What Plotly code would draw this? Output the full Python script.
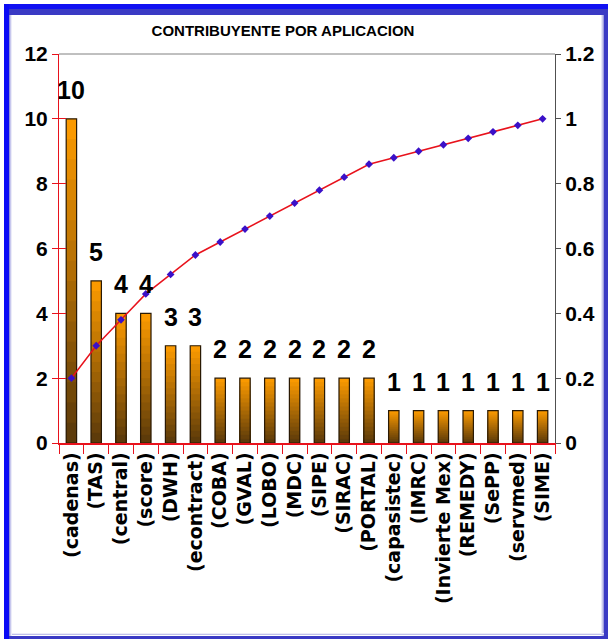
import plotly.graph_objects as go

categories = ["(cadenas)", "(TAS)", "(central)", "(score)", "(DWH)", "(econtract)",
              "(COBA)", "(GVAL)", "(LOBO)", "(MDC)", "(SIPE)", "(SIRAC)", "(PORTAL)",
              "(capasistec)", "(IMRC)", "(Invierte Mex)", "(REMEDY)", "(SePP)",
              "(servmed)", "(SIME)"]
counts = [10, 5, 4, 4, 3, 3, 2, 2, 2, 2, 2, 2, 2, 1, 1, 1, 1, 1, 1, 1]
cumulative = [0.20, 0.30, 0.38, 0.46, 0.52, 0.58, 0.62, 0.66, 0.70, 0.74, 0.78,
              0.82, 0.86, 0.88, 0.90, 0.92, 0.94, 0.96, 0.98, 1.00]
left_ticks = [0, 2, 4, 6, 8, 10, 12]
right_ticks = [0, 0.2, 0.4, 0.6, 0.8, 1.0, 1.2]
right_tick_text = ["0", "0.2", "0.4", "0.6", "0.8", "1", "1.2"]
title_text = "CONTRIBUYENTE POR APLICACION"

W, H = 609, 640
ML, MR, MT, MB = 59, 54, 54, 197
PW, PH = W - ML - MR, H - MT - MB

NARROW = "Liberation Sans Narrow, Arial Narrow, Liberation Sans, Arial, sans-serif"

fig = go.Figure()

# gradient bars: overlaid layers, top orange -> bottom dark brown
top_rgb = (255, 156, 0)
bot_rgb = (88, 56, 10)
N = 16
for k in range(N, 0, -1):
    f = (k - 0.5) / N
    c = tuple(int(round(bot_rgb[i] + (top_rgb[i] - bot_rgb[i]) * f)) for i in range(3))
    fig.add_trace(go.Bar(
        x=categories, y=[v * k / N for v in counts],
        marker=dict(color="rgb(%d,%d,%d)" % c, line=dict(width=0)),
        showlegend=False, hoverinfo="skip", yaxis="y"))
# outline
fig.add_trace(go.Bar(
    x=categories, y=counts,
    marker=dict(color="rgba(0,0,0,0)", line=dict(color="#2a1a05", width=1.2)),
    showlegend=False, yaxis="y"))

# cumulative line
fig.add_trace(go.Scatter(
    x=categories, y=cumulative, yaxis="y2", mode="lines+markers",
    line=dict(color="#e8121c", width=1.5),
    marker=dict(symbol="diamond", size=6, color="#3a10c8"),
    showlegend=False))

# value labels
for cat, v in zip(categories, counts):
    fig.add_annotation(x=cat, y=v, xref="x", yref="y", text=str(v),
                       showarrow=False, yanchor="bottom", yshift=13,
                       font=dict(family=NARROW, size=25, color="black", weight="bold"))


def px_rect(x0, y0, x1, y1, color):
    return dict(type="rect", xref="paper", yref="paper", layer="below",
                x0=(x0 - ML) / PW, x1=(x1 - ML) / PW,
                y0=(H - MB - y0) / PH, y1=(H - MB - y1) / PH,
                fillcolor=color, line=dict(width=0))


shapes = []
# frame
shapes.append(px_rect(4, 4, 608, 639, "#3a3ac4"))
shapes.append(px_rect(12, 15, 604, 636, "#ffffff"))
# right fade
for i, col in enumerate(["#e8e8f8", "#c8c8ee", "#9c9cdc"]):
    shapes.append(px_rect(601 + i, 15, 602 + i, 636, col))
# bottom fade
for i, col in enumerate(["#ececf8", "#c0c0ea"]):
    shapes.append(px_rect(12, 633 + i, 604, 634 + i, col))
# left fade
for i, col in enumerate(["#9090d8", "#c8c8ee", "#ececf8"]):
    shapes.append(px_rect(9 + i, 15, 10 + i, 636, col))
shapes.append(px_rect(4, 4, 608, 9, "#1010f2"))
shapes.append(px_rect(4, 4, 9, 639, "#0a0af5"))
# top border of plot area
shapes.append(dict(type="line", xref="paper", yref="paper", x0=0, x1=1, y0=1, y1=1,
                   line=dict(color="#808080", width=1), layer="above"))

fig.update_layout(
    width=W, height=H,
    margin=dict(l=ML, r=MR, t=MT, b=MB),
    paper_bgcolor="white", plot_bgcolor="white",
    barmode="overlay", bargap=0.58,
    shapes=shapes,
    title=dict(text=title_text, x=283 / W, y=1 - 31 / H, xanchor="center", yanchor="middle",
               font=dict(family=NARROW, size=15, color="black", weight="bold")),
    xaxis=dict(tickangle=-90, showgrid=False, showline=True, linecolor="#e8121c", linewidth=1.5,
               ticks="outside", tickson="boundaries", ticklen=9, tickcolor="#e8121c",
               range=[-0.5, len(categories) - 0.5],
               tickfont=dict(family="DejaVu Sans", size=19, color="black", weight="bold")),
    yaxis=dict(range=[0, 12], tickvals=left_ticks, showgrid=False, zeroline=False,
               showline=True, linecolor="#e8121c", linewidth=1,
               ticks="outside", ticklen=6, tickcolor="#e8121c",
               tickfont=dict(family=NARROW, size=21, color="black", weight="bold")),
    yaxis3=dict(range=[0, 12], tickvals=left_ticks, overlaying="y", side="left",
                showgrid=False, zeroline=False, showline=False, showticklabels=False,
                ticks="inside", ticklen=7, tickcolor="#e8121c"),
    yaxis2=dict(range=[0, 1.2], tickvals=right_ticks, ticktext=right_tick_text,
                overlaying="y", side="right", showgrid=False, zeroline=False,
                showline=True, linecolor="#505050", linewidth=1,
                ticks="outside", ticklen=5, tickcolor="#505050",
                tickfont=dict(family=NARROW, size=21, color="black", weight="bold")),
)
fig.add_trace(go.Scatter(x=[categories[0]], y=[0], yaxis="y3", mode="markers",
                         marker=dict(opacity=0), showlegend=False, hoverinfo="skip"))

fig.write_html("out.html")
